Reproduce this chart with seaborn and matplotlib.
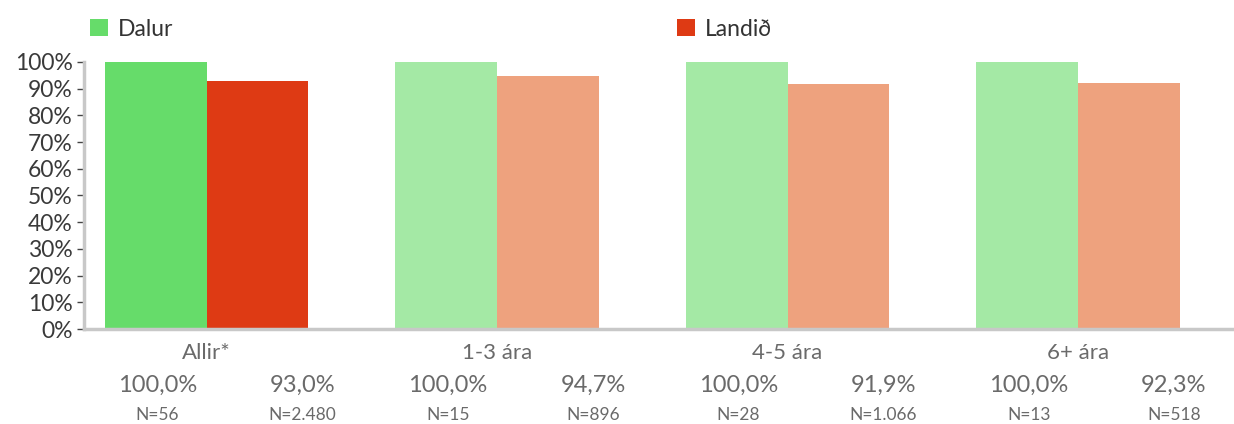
import matplotlib
matplotlib.use("Agg")
import matplotlib.pyplot as plt
import matplotlib.transforms as mtransforms
from matplotlib.patches import Patch
import pandas as pd
import seaborn as sns

# Data
categories = ["Allir*", "1-3 ára", "4-5 ára", "6+ ára"]
series = ["Dalur", "Landið"]
dalur = [100.0, 100.0, 100.0, 100.0]
landid = [93.0, 94.7, 91.9, 92.3]
dalur_n = ["N=56", "N=15", "N=28", "N=13"]
landid_n = ["N=2.480", "N=896", "N=1.066", "N=518"]

dalur_colors = ["#66dc6a", "#a4e9a5", "#a4e9a5", "#a4e9a5"]
landid_colors = ["#de3a14", "#eea27e", "#eea27e", "#eea27e"]

df = pd.DataFrame({
    "category": categories * 2,
    "series": [series[0]] * 4 + [series[1]] * 4,
    "value": dalur + landid,
})

sns.set_theme(style="white")
plt.rcParams["font.family"] = ["Lato", "DejaVu Sans"]

fig = plt.figure(figsize=(12.34, 4.24), dpi=100)
ax = fig.add_axes([84 / 1234, 95 / 424, 1150 / 1234, 267 / 424])

sns.barplot(data=df, x="category", y="value", hue="series", order=categories,
            hue_order=series, palette=[dalur_colors[0], landid_colors[0]],
            width=0.7, saturation=1, legend=False, ax=ax)

for bar, c in zip(ax.containers[0], dalur_colors):
    bar.set_facecolor(c)
    bar.set_edgecolor("none")
for bar, c in zip(ax.containers[1], landid_colors):
    bar.set_facecolor(c)
    bar.set_edgecolor("none")

ax.set_xlim(-0.422, 3.537)
ax.set_ylim(0, 100)
ax.set_yticks(range(0, 101, 10))
ax.set_yticklabels([f"{v}%" for v in range(0, 101, 10)], fontsize=16.5, color="#3a3a3a")
ax.set_xticks(range(len(categories)))
ax.set_xticklabels(categories, fontsize=16, color="#6a6a6a")
ax.set_xlabel("")
ax.set_ylabel("")

for side in ["top", "right"]:
    ax.spines[side].set_visible(False)
for side in ["left", "bottom"]:
    ax.spines[side].set_color("#c8c8c8")
    ax.spines[side].set_linewidth(2.5)
ax.tick_params(axis="y", which="both", left=True, length=5, width=1, color="#444444", pad=3)
ax.tick_params(axis="x", bottom=False, pad=4)

# value and N rows under the axis
trans = mtransforms.blended_transform_factory(ax.transData, fig.transFigure)
for i in range(len(categories)):
    ax.text(i - 0.17, 0.092, f"{dalur[i]:.1f}%".replace(".", ","), transform=trans,
            ha="center", va="center", fontsize=17, color="#6a6a6a")
    ax.text(i + 0.33, 0.092, f"{landid[i]:.1f}%".replace(".", ","), transform=trans,
            ha="center", va="center", fontsize=17, color="#6a6a6a")
    ax.text(i - 0.17, 0.021, dalur_n[i], transform=trans,
            ha="center", va="center", fontsize=12.5, color="#6a6a6a")
    ax.text(i + 0.33, 0.021, landid_n[i], transform=trans,
            ha="center", va="center", fontsize=12.5, color="#6a6a6a")

# legend: two entries far apart
for name, color, xpos in [(series[0], dalur_colors[0], 90 / 1234), (series[1], landid_colors[0], 677 / 1234)]:
    leg = fig.legend(handles=[Patch(facecolor=color, edgecolor="none")], labels=[name],
                     loc="center left", bbox_to_anchor=(xpos, 1 - 29 / 424), frameon=False,
                     fontsize=16.5, handlelength=0.8, handleheight=0.8, handletextpad=0.4,
                     borderaxespad=0, borderpad=0)
    for t in leg.get_texts():
        t.set_color("#333333")

fig.savefig("out.png", dpi=100)
